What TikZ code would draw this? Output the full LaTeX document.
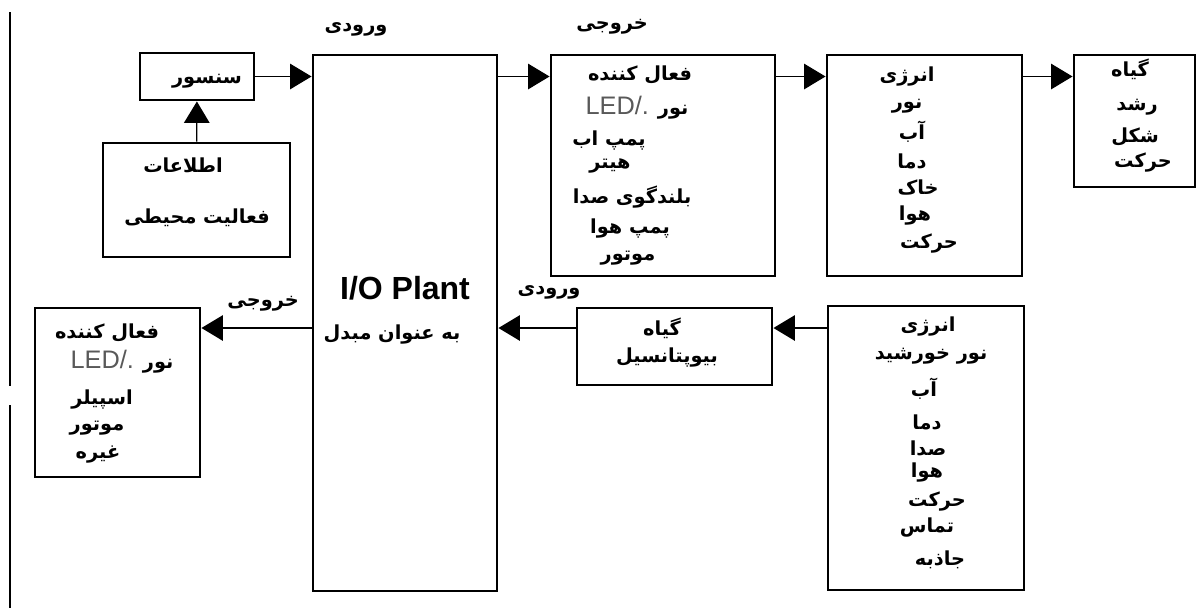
\documentclass[tikz,border=0pt]{standalone}
\usepackage{fontspec}
\setmainfont{Liberation Sans}
\newfontfamily\farsifont[Script=Arabic]{DejaVu Sans}
\newfontfamily\ledfont{Liberation Sans}
\TeXXeTstate=1
\usetikzlibrary{arrows.meta, fit}

\newcommand{\fatxt}[1]{\beginR #1\endR}
\newcommand{\lednur}{{\color{black!65}\ledfont\mdseries\fontsize{19}{20}\selectfont LED/.} \beginR نور\endR}

\begin{document}
\begin{tikzpicture}[x=0.75pt, y=-0.75pt, >={Triangle[length=16pt, width=19pt]},
  box/.style={draw, line width=2.2pt, inner sep=0pt},
  arr/.style={->, line width=1pt},
  txt/.style={font=\farsifont\bfseries\fontsize{14.5}{16}\selectfont, inner sep=0pt}]
  \useasboundingbox (0,0) rectangle (1199,608);
  \draw[line width=2pt] (10,12) -- (10,386) (10,405) -- (10,608);

  % boxes
  \node[box, fit={(140,53) (254,100)}] (sensor) {};
  \node[box, fit={(103,143) (290,257)}] (info) {};
  \node[box, fit={(313,55) (497,591)}] (io) {};
  \node[box, fit={(551,55) (775,276)}] (act) {};
  \node[box, fit={(827,55) (1022,276)}] (env) {};
  \node[box, fit={(1074,55) (1195,187)}] (plant) {};
  \node[box, fit={(35,308) (200,477)}] (out2) {};
  \node[box, fit={(577,308) (772,385)}] (bio) {};
  \node[box, fit={(828,306) (1024,590)}] (env2) {};
  \coordinate (r2) at (0,328);

  % connectors
  \draw[arr] (sensor) -- (sensor -| io.west);
  \draw[arr] (info) -- (sensor);
  \draw[arr] (io.east |- sensor) -- (act.west |- sensor);
  \draw[arr] (act.east |- sensor) -- (env.west |- sensor);
  \draw[arr] (env.east |- sensor) -- (plant.west |- sensor);
  \draw[arr] (io.west |- r2) -- (out2.east |- r2);
  \draw[arr] (bio.west |- r2) -- (io.east |- r2);
  \draw[arr] (env2.west |- r2) -- (bio.east |- r2);

  % labels over the connectors
  \node[txt] (in1) at (356,29) {\fatxt{ورودی}};
  \node[txt] (out1) at (612,27) {\fatxt{خروجی}};
  \node[txt] (in2) at (549,292) {\fatxt{ورودی}};
  \node[txt] (outl) at (263,304) {\fatxt{خروجی}};

  % texts in the boxes
  \node[txt] (sensortxt) at (207,81) {\fatxt{سنسور}};
  \node[txt] (info-1) at (183,165) {\fatxt{اطلاعات}};
  \node[txt] (info-2) at (197,218) {\fatxt{فعالیت محیطی}};
  \node[font=\bfseries\fontsize{24}{26}\selectfont, inner sep=0pt] (iotxt) at (405,288) {I/O Plant};
  \node[txt] (io-2) at (392,335) {\fatxt{به عنوان  مبدل}};

  \node[txt] (act-7) at (637,108) {\lednur};
  \foreach \x/\y/\t [count=\i] in {640/75/{فعال کننده}, 609/141/{پمپ اب}, 610/166/{هیتر},
      632/197/{بلندگوی صدا}, 630/229/{پمپ هوا}, 628/258/{موتور}}
    \node[txt] (act-\i) at (\x,\y) {\fatxt{\t}};

  \foreach \x/\y/\t [count=\i] in {907/77/{انرژی}, 907/106/{نور}, 912/132/{آب}, 912/161/{دما},
      918/188/{خاک}, 915/216/{هوا}, 929/244/{حرکت}}
    \node[txt] (env-\i) at (\x,\y) {\fatxt{\t}};

  \foreach \x/\y/\t [count=\i] in {1130/69/{گیاه}, 1137/107/{رشد}, 1135/137/{شکل}, 1143/163/{حرکت}}
    \node[txt] (plant-\i) at (\x,\y) {\fatxt{\t}};

  \node[txt] (out2-5) at (122,362) {\lednur};
  \foreach \x/\y/\t [count=\i] in {107/333/{فعال کننده}, 102/400/{اسپیلر}, 97/428/{موتور}, 98/455/{غیره}}
    \node[txt] (out2-\i) at (\x,\y) {\fatxt{\t}};

  \node[txt] (bio-1) at (662,328) {\fatxt{گیاه}};
  \node[txt] (bio-2) at (667,358) {\fatxt{بیوپتانسیل}};

  \foreach \x/\y/\t [count=\i] in {928/327/{انرژی}, 931/356/{نور خورشید}, 924/389/{آب}, 927/422/{دما},
      928/448/{صدا}, 927/473/{هوا}, 937/502/{حرکت}, 927/528/{تماس}, 940/560/{جاذبه}}
    \node[txt] (env2-\i) at (\x,\y) {\fatxt{\t}};
\end{tikzpicture}
\end{document}
